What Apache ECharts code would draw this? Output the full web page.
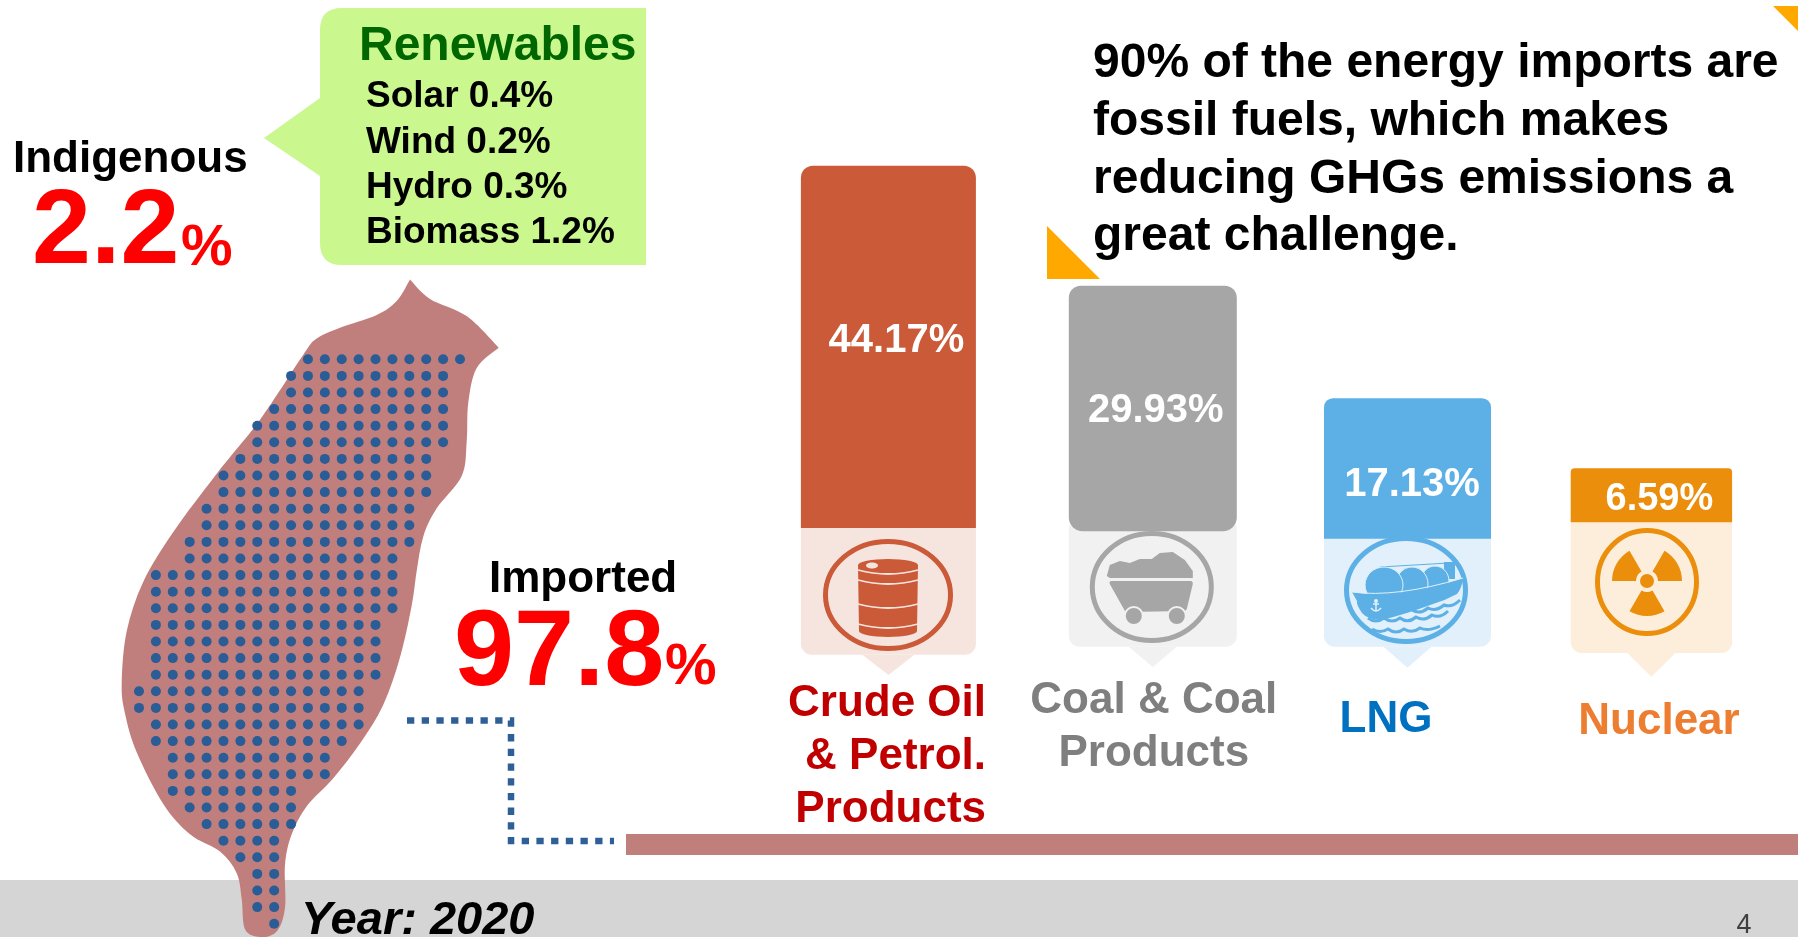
<!DOCTYPE html>
<html>
<head>
<meta charset="utf-8">
<title>Energy supply, 2020</title>
<script src="https://cdn.jsdelivr.net/npm/echarts@6/dist/echarts.min.js"></script>
<style>
  html, body { margin: 0; padding: 0; background: #fff; }
  #chart { width: 1798px; height: 937px; }
</style>
</head>
<body>
<div id="chart"></div>
<script>
// Imported energy by source (share of total supply, %)
const categories = ['Crude Oil\n& Petrol.\nProducts', 'Coal & Coal\nProducts', 'LNG', 'Nuclear'];
const shares = [44.17, 29.93, 17.13, 6.59];
const shareLabels = ['44.17%', '29.93%', '17.13%', '6.59%'];

// Indigenous supply
const renewableLines = ['Solar 0.4%', 'Wind 0.2%', 'Hydro 0.3%', 'Biomass 1.2%'];
const indigenousShare = '2.2';
const importedShare = '97.8';
const headlineLines = [
  '90% of the energy imports are',
  'fossil fuels, which makes',
  'reducing GHGs emissions a',
  'great challenge.'
];

// Dot matrix over the island: first and last column of each row
const dotRows = [
  [10,19],[9,18],[9,18],[8,18],[7,18],[7,18],[6,17],[5,17],[5,17],[4,16],[4,16],[3,16],
  [3,15],[1,15],[1,15],[1,15],[1,14],[1,14],[1,14],[1,14],[0,13],[0,13],[1,13],[1,12],
  [2,11],[2,11],[2,9],[3,9],[4,9],[5,8],[6,8],[7,8],[7,8],[7,8],[8,8]
];

const FONT = '"Liberation Sans", Arial, sans-serif';
const bold = size => 'bold ' + size + 'px ' + FONT;

// Per-tag appearance and placement; base is the axis level each coloured head starts from
const tagStyle = [
  { dark: '#cb5a38', pale: '#f6e5df', title: '#c00000', nudge: -5.25, width: 175, base: 16.1, radius: [12, 12, 0, 0],
    bottom: 654.7, tipY: 675, tipHalf: 26, valueDx: 8, valueDy: 175, labelDx: 97.6, labelY: 756.5, labelAlign: 'right', ring: [-0.4, 595, 65, 56], valueSize: 40 },
  { dark: '#a6a6a6', pale: '#f1f1f1', title: '#7f7f7f', nudge: 4.85, width: 168, base: 15.7, radius: [12, 12, 14, 14],
    bottom: 646.7, tipY: 667, tipHalf: 24, valueDx: 3, valueDy: 125, labelDx: 1, labelY: 727.5, labelAlign: 'center', ring: [-1, 587, 62, 56], valueSize: 40 },
  { dark: '#5cb0e6', pale: '#e1f0fa', title: '#0070c0', nudge: 5.25, width: 167, base: 14.8, radius: [9, 9, 0, 0],
    bottom: 646.7, tipY: 667.7, tipHalf: 24, valueDx: 4.5, valueDy: 87, labelDx: -21.5, labelY: 719.5, labelAlign: 'center', ring: [-1.5, 590, 62, 54], valueSize: 40 },
  { dark: '#eb8e0c', pale: '#fdeedb', title: '#ed7d31', nudge: -5.15, width: 161.4, base: 16.8, radius: [4, 4, 0, 0],
    bottom: 653, tipY: 676.7, tipHalf: 24, valueDx: 8, valueDy: 31, labelDx: 7.6, labelY: 721.5, labelAlign: 'center', ring: [-4.4, 582, 52, 54], valueSize: 38 }
];

function textEl(text, x, y, font, fill, align, z) {
  const el = {
    type: 'text', x: x, y: y,
    style: {
      text: text, font: font, fill: fill,
      align: align || 'left', textAlign: align || 'left',
      verticalAlign: 'middle', textVerticalAlign: 'middle'
    }
  };
  if (z) el.z = z;
  return el;
}

// Icons, drawn around the centre of their ring
function barrelIcon(c) {
  const band = 'M-30 -25Q0 -17 30 -25M-30 -15Q0 -7 30 -15M-30 9Q0 17 30 9M-30 29Q0 37 30 29';
  return [
    { type: 'path', shape: { pathData: 'M-30 -30A30 6 0 0 1 30 -30L29 36A29 6 0 0 1 -29 36Z' }, style: { fill: c.dark } },
    { type: 'path', shape: { pathData: band }, style: { fill: 'none', stroke: c.pale, lineWidth: 1.8 } },
    { type: 'ellipse', shape: { cx: -16, cy: -29.5, rx: 6, ry: 3 }, style: { fill: c.pale } }
  ];
}
function cartIcon(c) {
  const pile = 'M-45 -11L-42 -22L-32 -26L-22 -24L-12 -28L0 -28L8 -34L21 -35L33 -27L41 -16L41 -9L-42 -9Z';
  const cart = 'M-40 -6L39 -6Q41 -6 41 -3L35 22Q34 24 32 24L-24 25Q-27 25 -28 22L-42 -3Q-43 -6 -40 -6Z';
  return [
    { type: 'path', shape: { pathData: pile }, style: { fill: c.dark } },
    { type: 'path', shape: { pathData: cart }, style: { fill: c.dark } },
    { type: 'circle', shape: { cx: -18, cy: 29, r: 9 }, style: { fill: c.dark, stroke: c.pale, lineWidth: 2 } },
    { type: 'circle', shape: { cx: 25, cy: 29, r: 9 }, style: { fill: c.dark, stroke: c.pale, lineWidth: 2 } }
  ];
}
function shipIcon(c) {
  const hull = 'M-54 2Q-10 10 57 -12Q56 -2 51 4Q40 10 27 14Q0 24 -24 30Q-38 30 -44 23Q-50 14 -49 11Z';
  const waves = 'M-38 28Q-30 34 -22 28Q-14 34 -6 28Q2 34 10 27Q18 32 26 25Q34 29 42 21' +
                'M-34 39Q-26 44 -18 39Q-10 45 -2 39Q6 44 14 38Q22 42 34 36' +
                'M6 20Q14 25 22 18Q30 22 38 15Q46 18 54 10';
  const dome = (cx, cy, rx, ry) => ({
    type: 'ellipse', shape: { cx: cx, cy: cy, rx: rx, ry: ry },
    style: { fill: c.dark, stroke: c.pale, lineWidth: 1 }
  });
  return [
    { type: 'path', shape: { pathData: 'M-26 -23L43 -27' }, style: { stroke: c.dark, fill: 'none', lineWidth: 1 } },
    { type: 'rect', shape: { x: 38, y: -28, width: 11, height: 17 }, style: { fill: c.dark } },
    dome(29, -9, 14, 15), dome(6, -6, 16, 17), dome(-22, -5, 19, 18),
    { type: 'path', shape: { pathData: hull }, style: { fill: c.dark } },
    { type: 'path', shape: { pathData: 'M-54 2Q-10 8 57 -12' }, style: { fill: 'none', stroke: c.pale, lineWidth: 1 } },
    { type: 'path', shape: { pathData: waves }, style: { fill: 'none', stroke: c.dark, lineWidth: 3 } },
    { type: 'path', shape: { pathData: 'M-30 11L-30 21M-35 18Q-30 24 -25 18M-33 14L-27 14' }, style: { fill: 'none', stroke: c.pale, lineWidth: 1.5 } },
    { type: 'circle', shape: { cx: -30, cy: 11, r: 2 }, style: { fill: c.pale } }
  ];
}
function trefoilIcon(c) {
  const wedge = (a, b) => ({
    type: 'sector',
    shape: { cx: 0, cy: -1, r0: 11, r: 35, startAngle: a * Math.PI / 180, endAngle: b * Math.PI / 180 },
    style: { fill: c.dark }
  });
  return [
    wedge(180, 240), wedge(300, 360), wedge(60, 120),
    { type: 'circle', shape: { cx: 0, cy: -1, r: 7 }, style: { fill: c.dark } }
  ];
}
const iconMakers = [barrelIcon, cartIcon, shipIcon, trefoilIcon];

// One pin-shaped tag: pale body with pointer, coloured head sized by the share, ring icon and captions
function renderTag(params, api) {
  const i = api.value(0);
  const share = api.value(1);
  const c = tagStyle[i];
  const cx = api.coord([i, 0])[0] + c.nudge;
  const headBottom = api.coord([i, c.base])[1];
  const headTop = api.coord([i, c.base + share])[1];
  const left = cx - c.width / 2;

  const children = [
    { type: 'rect',
      shape: { x: left, y: headBottom - 6, width: c.width, height: c.bottom - headBottom + 6, r: [0, 0, 11, 11] },
      style: { fill: c.pale } },
    { type: 'polygon',
      shape: { points: [[cx - c.tipHalf, c.bottom], [cx + c.tipHalf, c.bottom], [cx, c.tipY]] },
      style: { fill: c.pale } },
    { type: 'rect',
      shape: { x: left, y: headTop, width: c.width, height: headBottom - headTop, r: c.radius },
      style: { fill: c.dark } },
    { type: 'group', x: cx + c.ring[0], y: c.ring[1],
      children: [
        { type: 'ellipse', shape: { cx: 0, cy: 0, rx: c.ring[2] - 2.5, ry: c.ring[3] - 2.5 },
          style: { fill: c.pale, stroke: c.dark, lineWidth: 5 } }
      ].concat(iconMakers[i](c)) }
  ];
  const value = textEl(shareLabels[i], cx + c.valueDx, headTop + c.valueDy, bold(c.valueSize), '#ffffff', 'center');
  const title = textEl(categories[i], cx + c.labelDx, c.labelY, bold(44), c.title, c.labelAlign);
  title.style.lineHeight = 53;
  children.push(value, title);
  return { type: 'group', children: children };
}

// Smooth outline through hand-traced points; sharp capes stay sharp because each run is open
function smoothRun(points) {
  let d = '';
  for (let i = 0; i < points.length - 1; i++) {
    const p0 = points[Math.max(i - 1, 0)], p1 = points[i];
    const p2 = points[i + 1], p3 = points[Math.min(i + 2, points.length - 1)];
    const c1 = [p1[0] + (p2[0] - p0[0]) / 6, p1[1] + (p2[1] - p0[1]) / 6];
    const c2 = [p2[0] - (p3[0] - p1[0]) / 6, p2[1] - (p3[1] - p1[1]) / 6];
    d += 'C' + c1[0] + ' ' + c1[1] + ' ' + c2[0] + ' ' + c2[1] + ' ' + p2[0] + ' ' + p2[1];
  }
  return d;
}
const islandNorth = [[410,279.4],[430,298.9],[466.7,316.1],[498.7,347.7]];
const islandRest = [
  [498.7,347.7],[476.7,368],[468.3,402.5],[466.7,441.4],[461.7,475.9],[436.7,508.3],[423.3,536.4],
  [416.7,570.9],[411.7,605.4],[400,657.3],[383.3,704.8],[360,743.6],[333.3,778.2],[306.7,806.2],
  [291.7,834.3],[285,864.5],[285,907.7],[276.7,931.4],[260,937],[245,929.3],[241.7,899],[236.7,873.2],
  [220,851.6],[190,834.3],[163.3,804],[136.7,752.3],[125,713.4],[121.7,683.2],[126.7,631.3],[143.3,581.7],
  [173.3,532],[216.7,473.7],[260,419.8],[303.3,354.8],[316.7,338.6],[340,327.8],[376.7,315],[396.7,301],[410,279.4]
];
const islandPath = 'M410 279.4' + smoothRun(islandNorth) + smoothRun(islandRest) + 'Z';
const calloutPath = 'M342 8L646 8L646 265L342 265Q320 265 320 243L320 176L264 138L320 98L320 30Q320 8 342 8Z';

// Island silhouette and Renewables callout sit behind the dot matrix
function renderBackdrop() {
  return {
    type: 'group',
    children: [
      { type: 'path', shape: { pathData: islandPath }, style: { fill: '#c07f7c' } },
      { type: 'path', shape: { pathData: calloutPath }, style: { fill: '#cbf78f' } }
    ]
  };
}

const dotData = [];
dotRows.forEach((r, row) => {
  for (let col = r[0]; col <= r[1]; col++) dotData.push([col, row]);
});

const graphics = [
  { type: 'rect', z: 0, shape: { x: 0, y: 880, width: 1798, height: 57 }, style: { fill: '#d5d5d5' } },
  { type: 'rect', z: 1, shape: { x: 626, y: 834, width: 1172, height: 21 }, style: { fill: '#c17f7c' } },
  { type: 'polyline', z: 1, shape: { points: [[407, 720.5], [511, 720.5], [511, 841], [614, 841]] },
    style: { fill: 'none', stroke: '#2f5f97', lineWidth: 6.5, lineDash: [7.3, 7.4] } },
  // Corner accents
  { type: 'polygon', z: 1, shape: { points: [[1047, 226], [1047, 279], [1100, 279]] }, style: { fill: '#ffa800' } },
  { type: 'polygon', z: 1, shape: { points: [[1773, 6], [1798, 6], [1798, 31]] }, style: { fill: '#ffa800' } },

  textEl('Renewables', 359, 46.5, bold(48), '#006600', 'left', 10),
  textEl('Indigenous', 13, 160, bold(44), '#000000', 'left', 10),
  textEl(indigenousShare, 32, 234, bold(106), '#ff0000', 'left', 10),
  textEl('%', 181, 249, bold(58), '#ff0000', 'left', 10),
  textEl('Imported', 489, 580, bold(44), '#000000', 'left', 10),
  textEl(importedShare, 454, 655, bold(108), '#ff0000', 'left', 10),
  textEl('%', 665, 668, bold(58), '#ff0000', 'left', 10),
  textEl('Year: 2020', 301, 921, 'italic bold 47px ' + FONT, '#000000', 'left', 10),
  textEl('4', 1744, 926, '27px ' + FONT, '#404040', 'center', 10)
];
renewableLines.forEach((t, i) => {
  graphics.push(textEl(t, 366, 97 + i * 45.4, bold(37), '#000000', 'left', 10));
});
headlineLines.forEach((t, i) => {
  graphics.push(textEl(t, 1093, 64 + i * 57.7, bold(48), '#000000', 'left', 10));
});

const chart = echarts.init(document.getElementById('chart'), null, { renderer: 'canvas' });
chart.setOption({
  animation: false,
  backgroundColor: '#ffffff',
  tooltip: { show: false },
  grid: [
    { left: 766.5, width: 1017.2, top: 168, height: 492, containLabel: false },
    { left: 139, width: 321, top: 359.3, height: 564.4, containLabel: false }
  ],
  xAxis: [
    { type: 'category', gridIndex: 0, data: categories, show: false },
    { type: 'value', gridIndex: 1, min: 0, max: 19, show: false }
  ],
  yAxis: [
    { type: 'value', gridIndex: 0, min: 0, max: 60, show: false },
    { type: 'value', gridIndex: 1, min: 0, max: 34, inverse: true, show: false }
  ],
  graphic: { elements: graphics },
  series: [
    {
      name: 'Backdrop', type: 'custom', coordinateSystem: 'none', z: 1,
      data: [[0]], renderItem: renderBackdrop, silent: true
    },
    {
      name: 'Island grid', type: 'scatter', xAxisIndex: 1, yAxisIndex: 1, z: 3,
      data: dotData, symbol: 'circle', symbolSize: 10, silent: true,
      itemStyle: { color: '#2a5c96', opacity: 1 }
    },
    {
      name: 'Imports', type: 'custom', xAxisIndex: 0, yAxisIndex: 0, z: 4,
      data: shares.map((v, i) => [i, v]),
      encode: { x: 0, y: 1 }, renderItem: renderTag, silent: true, clip: false
    }
  ]
});
</script>
</body>
</html>
